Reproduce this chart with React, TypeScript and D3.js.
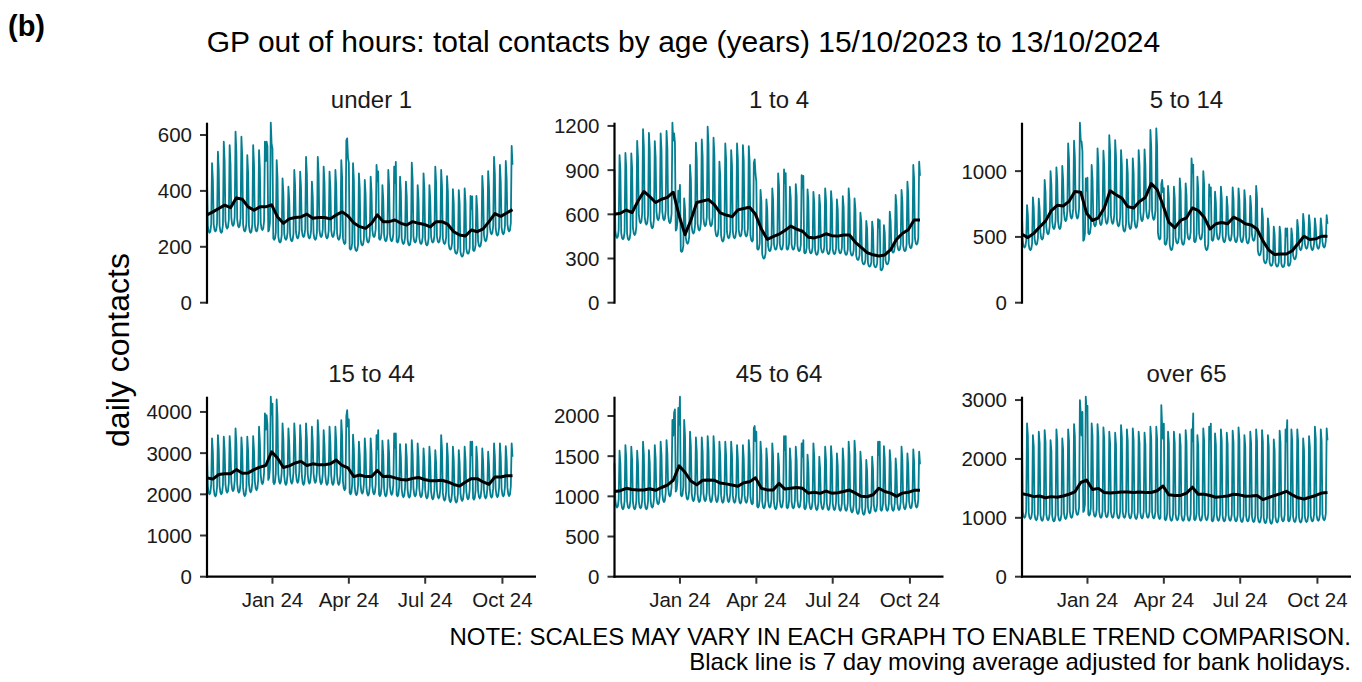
import React from "react";
import * as d3 from "d3";

// ---------- DATA ----------
const startDate = new Date(2023, 9, 15); // Sunday 15/10/2023, day 0
const axisEndDate = new Date(2024, 10, 10);
const numDays = 365; // 15/10/2023 .. 13/10/2024

const xTickDates = [new Date(2024, 0, 1), new Date(2024, 3, 1), new Date(2024, 6, 1), new Date(2024, 9, 1)];
const xTickLabels = ["Jan 24", "Apr 24", "Jul 24", "Oct 24"];

const panelTitles = ["under 1", "1 to 4", "5 to 14", "15 to 44", "45 to 64", "over 65"];
const yTicks = [
  [0, 200, 400, 600],
  [0, 300, 600, 900, 1200],
  [0, 500, 1000],
  [0, 1000, 2000, 3000, 4000],
  [0, 500, 1000, 1500, 2000],
  [0, 1000, 2000, 3000],
];

// Bank holidays: 25/12, 26/12, 1/1, Good Friday, Easter Monday, May day, Spring, Summer
const bankHolidays = [
  new Date(2023, 11, 25), new Date(2023, 11, 26), new Date(2024, 0, 1), new Date(2024, 2, 29),
  new Date(2024, 3, 1), new Date(2024, 4, 6), new Date(2024, 4, 27), new Date(2024, 7, 26),
];

// Mon..Fri level relative to the weekly weekday low
const weekdayProfile = [1.1, 1.02, 1.0, 1.02, 1.12];
// Sunday level relative to the Saturday peak, per panel
const sundayRatio = [0.88, 0.9, 0.9, 0.9, 0.9, 0.92];

// Saturday peaks (52 weeks), weekday lows (52 weeks), weekly 7-day average (53), holidays (8)
const under1Sat = [499, 540, 576, 564, 612, 594, 528, 564, 546, 576, 644, 510, 445, 415, 475, 469, 522, 433, 522, 487, 469, 475, 510, 588, 499, 463, 439, 451, 493, 421, 475, 487, 451, 433, 501, 421, 463, 421, 487, 475, 453, 406, 403, 409, 382, 382, 454, 471, 522, 493, 507, 561];
const under1Low = [250, 255, 250, 265, 275, 270, 255, 250, 255, 260, 255, 225, 215, 225, 220, 230, 235, 230, 225, 235, 230, 235, 225, 210, 190, 185, 205, 215, 235, 225, 220, 220, 215, 210, 205, 215, 210, 205, 215, 215, 210, 190, 175, 165, 175, 185, 200, 220, 245, 240, 245, 255];
const under1MA = [314, 325, 337, 349, 340, 375, 370, 343, 331, 343, 343, 350, 307, 284, 300, 305, 307, 317, 302, 305, 305, 300, 314, 325, 310, 285, 272, 266, 284, 314, 290, 290, 296, 284, 278, 290, 284, 280, 271, 290, 290, 280, 254, 242, 239, 260, 254, 264, 290, 319, 309, 321, 333];
const under1Hol = [576, 560, 552, 580, 500, 470, 504, 380];

const age1to4Sat = [1002, 1017, 1014, 1099, 1178, 1153, 1097, 1149, 1167, 1222, 760, 708, 935, 1086, 1108, 1195, 1120, 958, 1081, 1036, 1081, 1070, 1063, 973, 765, 701, 776, 878, 905, 787, 805, 866, 769, 753, 731, 776, 758, 701, 724, 776, 708, 611, 555, 550, 568, 527, 618, 731, 765, 821, 935, 957];
const age1to4Low = [440, 430, 425, 460, 540, 530, 505, 560, 560, 540, 490, 345, 400, 470, 490, 520, 520, 450, 415, 437, 437, 450, 450, 415, 360, 300, 350, 360, 360, 360, 360, 350, 335, 335, 325, 340, 330, 330, 335, 325, 320, 290, 260, 245, 240, 220, 260, 340, 355, 350, 370, 395];
const age1to4MA = [600, 607, 629, 612, 690, 755, 720, 680, 702, 715, 750, 590, 462, 560, 680, 690, 700, 665, 610, 595, 584, 630, 640, 648, 600, 500, 430, 448, 465, 490, 520, 500, 485, 445, 440, 450, 468, 455, 452, 460, 460, 410, 375, 340, 325, 317, 324, 360, 430, 470, 495, 561, 561];
const age1to4Hol = [1150, 1086, 800, 950, 820, 880, 860, 560];

const age5to14Sat = [742, 801, 790, 933, 1000, 1029, 1040, 1211, 1231, 1368, 945, 1047, 1173, 1155, 1274, 1236, 1160, 1090, 1097, 1160, 1165, 1313, 1325, 933, 887, 882, 945, 907, 1097, 958, 1000, 900, 844, 882, 806, 877, 869, 856, 811, 887, 717, 641, 578, 578, 565, 565, 629, 674, 666, 641, 641, 666];
const age5to14Low = [420, 400, 440, 480, 520, 560, 560, 620, 640, 640, 470, 520, 580, 590, 600, 600, 580, 540, 560, 570, 620, 640, 630, 480, 440, 400, 450, 440, 480, 460, 480, 400, 470, 480, 460, 470, 460, 460, 450, 470, 360, 300, 280, 275, 270, 280, 330, 400, 410, 400, 410, 420];
const age5to14MA = [520, 495, 527, 575, 620, 700, 740, 735, 770, 845, 840, 680, 625, 645, 720, 850, 820, 795, 730, 720, 770, 800, 905, 860, 740, 610, 570, 625, 645, 720, 700, 650, 560, 600, 610, 600, 650, 630, 600, 591, 560, 470, 400, 366, 370, 370, 395, 450, 505, 480, 485, 505, 505];
const age5to14Hol = [1224, 1150, 950, 900, 870, 1050, 877, 565];

const age15to44Sat = [3359, 3439, 3400, 3415, 3600, 3382, 3399, 3415, 3641, 3965, 4370, 4304, 3722, 3600, 3722, 3682, 3722, 3641, 3803, 3560, 3641, 3641, 3803, 4046, 3450, 3278, 3359, 3359, 3439, 3300, 3317, 3479, 3220, 3220, 3317, 3236, 3115, 3155, 3074, 3439, 3236, 3155, 3074, 3155, 3277, 3155, 3115, 3034, 3236, 3236, 3171, 3236];
const age15to44Low = [2000, 1950, 2000, 2040, 2080, 2040, 1960, 2050, 2100, 2250, 2350, 2250, 2260, 2230, 2260, 2280, 2230, 2260, 2280, 2250, 2230, 2230, 2230, 2100, 2000, 1980, 2020, 1970, 2000, 1960, 1950, 1990, 1950, 1930, 1920, 1950, 1930, 1900, 1880, 1900, 1850, 1810, 1800, 1840, 1880, 1870, 1900, 1900, 1920, 1930, 1950, 1960];
const age15to44MA = [2400, 2370, 2480, 2500, 2500, 2600, 2510, 2520, 2600, 2660, 2700, 3030, 2880, 2650, 2690, 2760, 2800, 2700, 2740, 2720, 2720, 2740, 2830, 2700, 2640, 2430, 2470, 2430, 2430, 2580, 2430, 2440, 2400, 2360, 2347, 2387, 2410, 2360, 2330, 2330, 2340, 2300, 2240, 2200, 2300, 2380, 2380, 2300, 2240, 2420, 2420, 2450, 2450];
const age15to44Hol = [3925, 3700, 4200, 3900, 3819, 3560, 3479, 3277];

const age45to64Sat = [1568, 1638, 1617, 1568, 1680, 1576, 1638, 1680, 1700, 1950, 2100, 1950, 1804, 1733, 1733, 1750, 1750, 1680, 1680, 1680, 1638, 1638, 1700, 1875, 1680, 1597, 1659, 1535, 1750, 1597, 1617, 1659, 1520, 1659, 1493, 1617, 1625, 1535, 1597, 1680, 1692, 1555, 1452, 1493, 1680, 1625, 1576, 1472, 1617, 1535, 1584, 1555];
const age45to64Low = [860, 840, 850, 840, 850, 840, 860, 900, 930, 1000, 1060, 1000, 960, 940, 930, 940, 930, 930, 920, 930, 920, 910, 920, 900, 860, 850, 860, 840, 860, 850, 850, 860, 840, 840, 830, 840, 830, 830, 820, 820, 800, 780, 770, 790, 810, 820, 820, 820, 830, 840, 850, 860];
const age45to64MA = [1060, 1070, 1100, 1085, 1078, 1080, 1095, 1075, 1110, 1140, 1200, 1380, 1300, 1190, 1145, 1200, 1203, 1200, 1165, 1155, 1140, 1125, 1170, 1182, 1230, 1100, 1080, 1078, 1161, 1090, 1100, 1110, 1100, 1040, 1050, 1037, 1065, 1040, 1045, 1060, 1078, 1040, 1000, 995, 1020, 1100, 1060, 1040, 1000, 1040, 1050, 1075, 1075];
const age45to64Hol = [2040, 2082, 2240, 1850, 1804, 1750, 1700, 1680];

const over65Sat = [2604, 2406, 2462, 2491, 2321, 2502, 2349, 2502, 2592, 3000, 3057, 2604, 2592, 2536, 2462, 2445, 2575, 2502, 2519, 2462, 2445, 2547, 2547, 2547, 2462, 2462, 2423, 2491, 2500, 2406, 2519, 2547, 2434, 2502, 2445, 2479, 2536, 2406, 2462, 2502, 2491, 2406, 2332, 2479, 2500, 2502, 2502, 2349, 2389, 2547, 2502, 2519];
const over65Low = [1000, 980, 960, 950, 960, 940, 950, 980, 1000, 1050, 1100, 1040, 1020, 1000, 1010, 1000, 990, 1000, 990, 980, 990, 1000, 990, 980, 960, 950, 960, 950, 950, 960, 950, 960, 940, 950, 940, 950, 940, 930, 940, 930, 920, 910, 900, 920, 940, 940, 930, 920, 930, 940, 950, 960];
const over65MA = [1410, 1390, 1360, 1370, 1340, 1360, 1350, 1370, 1400, 1440, 1600, 1640, 1480, 1500, 1430, 1420, 1430, 1440, 1440, 1430, 1440, 1430, 1430, 1460, 1540, 1390, 1380, 1380, 1420, 1520, 1400, 1400, 1380, 1350, 1360, 1370, 1400, 1390, 1365, 1370, 1380, 1310, 1345, 1380, 1410, 1450, 1390, 1340, 1320, 1350, 1380, 1420, 1430];
const over65Hol = [2400, 2800, 2900, 2915, 2600, 2773, 2600, 2660];

const seriesSat = [under1Sat, age1to4Sat, age5to14Sat, age15to44Sat, age45to64Sat, over65Sat];
const seriesLow = [under1Low, age1to4Low, age5to14Low, age15to44Low, age45to64Low, over65Low];
const seriesMA = [under1MA, age1to4MA, age5to14MA, age15to44MA, age45to64MA, over65MA];
const seriesHol = [under1Hol, age1to4Hol, age5to14Hol, age15to44Hol, age45to64Hol, over65Hol];

const titleText = "GP out of hours: total contacts by age (years) 15/10/2023 to 13/10/2024";
const noteLine1 = "NOTE: SCALES MAY VARY IN EACH GRAPH TO ENABLE TREND COMPARISON.";
const noteLine2 = "Black line is 7 day moving average adjusted for bank holidays.";

// ---------- BUILD DAILY SERIES ----------
function buildDaily(i: number): [Date, number][] {
  const sat = seriesSat[i], low = seriesLow[i], hol = seriesHol[i];
  const out: [Date, number][] = [];
  const holIdx = new Map<number, number>();
  bankHolidays.forEach((d, h) => holIdx.set(d3.timeDay.count(startDate, d), hol[h]));
  for (let d = 0; d < numDays; d++) {
    const dow = d % 7; // 0 Sunday
    let v: number;
    if (holIdx.has(d)) v = holIdx.get(d) as number;
    else if (dow === 0) v = sat[d === 0 ? 0 : d / 7 - 1] * sundayRatio[i];
    else if (dow === 6) v = sat[(d - 6) / 7];
    else v = low[Math.floor(d / 7)] * weekdayProfile[dow - 1];
    out.push([d3.timeDay.offset(startDate, d), v]);
  }
  return out;
}

function buildMA(i: number): [Date, number][] {
  return seriesMA[i].map((v, j) => [d3.timeDay.offset(startDate, Math.min(7 * j, numDays - 1)), v] as [Date, number]);
}

// ---------- CHART ----------
const FONT = '"Liberation Sans", Arial, Helvetica, sans-serif';
const TEAL = "#047f92";

export default function App() {
  const W = 1362, H = 682;
  const lefts = [207, 614.5, 1022];
  const tops = [122.7, 396.7];
  const pw = 329, ph = 180;
  const x = d3.scaleTime().domain([startDate, axisEndDate]).range([0, pw]);

  const panels = panelTitles.map((title, i) => {
    const daily = buildDaily(i);
    const ma = buildMA(i);
    const ymax = d3.max(daily, (d) => d[1]) as number;
    const y = d3.scaleLinear().domain([0, ymax]).range([ph, 0]);
    const line = d3.line<[Date, number]>().x((d) => x(d[0])).y((d) => y(d[1]));
    const col = i % 3, row = Math.floor(i / 3);
    return (
      <g key={title} transform={`translate(${lefts[col]},${tops[row]})`}>
        <text x={pw / 2} y={-14.7} textAnchor="middle" fontSize={24} fill="#1a1a1a">{title}</text>
        <path d={line(daily) || ""} fill="none" stroke={TEAL} strokeWidth={1.8} strokeLinejoin="round" />
        <path d={line(ma) || ""} fill="none" stroke="#000" strokeWidth={3} strokeLinejoin="round" />
        {yTicks[i].map((t) => (
          <g key={t} transform={`translate(0,${y(t)})`}>
            <line x1={-7} x2={0} stroke="#333" strokeWidth={2} />
            <text x={-15} dy="0.36em" textAnchor="end" fontSize={20.5} fill="#1a1a1a">{t}</text>
          </g>
        ))}
        <line x1={0} x2={0} y1={0} y2={ph + 1} stroke="#000" strokeWidth={2.2} />
        {row === 1 && (
          <g>
            <line x1={-1} x2={pw} y1={ph} y2={ph} stroke="#000" strokeWidth={2.2} />
            {xTickDates.map((dt, k) => (
              <g key={k} transform={`translate(${x(dt)},${ph})`}>
                <line y1={0} y2={7} stroke="#333" strokeWidth={2} />
                <text y={30.8} textAnchor="middle" fontSize={20.5} fill="#1a1a1a">{xTickLabels[k]}</text>
              </g>
            ))}
          </g>
        )}
      </g>
    );
  });

  return (
    <svg width={W} height={H} style={{ position: "absolute", left: 0, top: 0 }} fontFamily={FONT}>
      <rect width={W} height={H} fill="#fff" />
      <text x={8} y={36} fontSize={29} fontWeight="bold" fill="#000">(b)</text>
      <text x={683.5} y={52} textAnchor="middle" fontSize={30} fill="#000">{titleText}</text>
      <text transform="translate(129,350) rotate(-90)" textAnchor="middle" fontSize={32} fill="#000">daily contacts</text>
      {panels}
      <text x={1351} y={645} textAnchor="end" fontSize={24} fill="#000">{noteLine1}</text>
      <text x={1351} y={670} textAnchor="end" fontSize={24} fill="#000">{noteLine2}</text>
    </svg>
  );
}
